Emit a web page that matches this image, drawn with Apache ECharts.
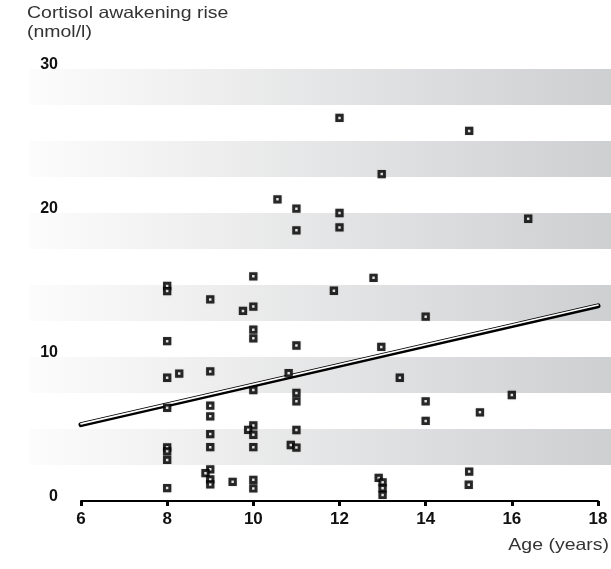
<!DOCTYPE html>
<html>
<head>
<meta charset="utf-8">
<script src="https://cdn.jsdelivr.net/npm/echarts@6/dist/echarts.min.js"></script>
<style>
  html, body { margin: 0; padding: 0; background: #fff; }
  #chart { width: 611px; height: 569px; }
</style>
</head>
<body>
<div id="chart"></div>
<script>
// Age (years) of each child and their cortisol awakening rise (nmol/l)
const ages = [
  8, 8, 8, 8, 8, 8, 8, 8, 8, 8.28,
  9, 9, 9, 9, 9, 9, 9, 8.89, 9, 9, 9.52,
  9.76, 10, 10, 10, 10, 10, 10, 9.88, 10, 10, 10, 10,
  10.56, 10.82, 10.87, 11, 11, 11, 11, 11, 11, 11,
  11.87, 12, 12, 12, 12.79, 12.98, 12.97, 12.91, 13, 13, 13,
  13.40, 14, 14, 14, 15.01, 15.01, 15, 15.26, 16, 16.38
];
const rises = [
  14.93, 14.58, 11.1, 8.56, 6.47, 3.73, 3.45, 2.85, 0.9, 8.85,
  14.0, 9.0, 6.62, 5.88, 4.65, 3.74, 2.2, 1.93, 1.5, 1.15, 1.33,
  13.2, 15.6, 13.5, 11.9, 11.3, 7.7, 5.25, 4.94, 4.6, 3.74, 1.47, 0.87,
  20.95, 8.87, 3.89, 20.3, 18.8, 10.8, 7.5, 6.92, 4.93, 3.71,
  14.6, 26.6, 20.0, 19.0, 15.5, 22.7, 10.7, 1.6, 1.3, 0.88, 0.42,
  8.56, 12.8, 6.92, 5.56, 25.7, 2.04, 1.13, 6.16, 7.36, 19.6
];

// Fitted trend line: start and end (age, rise)
const trendAges = [6, 18];
const trendRises = [5.3, 13.55];

// Shaded horizontal bands (lower, upper bound in nmol/l)
const bandLows = [2.5, 7.5, 12.5, 17.5, 22.5, 27.5];
const bandHighs = [5, 10, 15, 20, 25, 30];

// Axis ranges and tick spacing
const xMin = 6, xMax = 18, xStep = 2;
const yMin = 0, yMax = 30, yStep = 10;

const FONT = '"Liberation Sans", Arial, Helvetica, sans-serif';

const chart = echarts.init(document.getElementById('chart'), null, { renderer: 'canvas' });

const points = ages.map((a, i) => [a, rises[i]]);
const bands = bandLows.map((lo, i) => [xMin, lo, bandHighs[i]]);
const trend = [[trendAges[0], trendRises[0], trendAges[1], trendRises[1]]];

chart.setOption({
  animation: false,
  backgroundColor: '#ffffff',
  grid: { left: 81, right: 13, top: 69, bottom: 68 },
  graphic: [
    {
      type: 'text', x: 27, y: 4, scaleX: 1.18,
      style: {
        text: 'Cortisol awakening rise\n(nmol/l)',
        fontFamily: FONT, fontSize: 16.5, lineHeight: 19,
        fill: '#333333', textVerticalAlign: 'top'
      }
    },
    {
      type: 'text', x: 609, y: 545, scaleX: 1.18,
      style: {
        text: 'Age (years)',
        fontFamily: FONT, fontSize: 16.5,
        fill: '#333333', textAlign: 'right', textVerticalAlign: 'middle'
      }
    }
  ],
  xAxis: {
    type: 'value', min: xMin, max: xMax, interval: xStep,
    axisLine: { show: true, onZero: false, lineStyle: { color: '#000', width: 2 } },
    axisTick: { show: true, length: 5, lineStyle: { color: '#000', width: 3 } },
    axisLabel: {
      fontFamily: FONT, fontWeight: 'bold', fontSize: 17, color: '#111', margin: 10
    },
    splitLine: { show: false }
  },
  yAxis: {
    type: 'value', min: yMin, max: yMax, interval: yStep,
    axisLine: { show: false },
    axisTick: { show: false },
    splitLine: { show: false },
    axisLabel: {
      fontFamily: FONT, fontWeight: 'bold', fontSize: 16, color: '#111',
      margin: 23, verticalAlign: 'bottom', lineHeight: 9
    }
  },
  series: [
    {
      // grey bands fading from white on the left to grey on the right
      type: 'custom',
      z: 1,
      silent: true,
      data: bands,
      renderItem: function (params, api) {
        const cs = params.coordSys;
        const yTop = api.coord([api.value(0), api.value(2)])[1];
        const yBot = api.coord([api.value(0), api.value(1)])[1];
        const left = cs.x - 51;
        const right = api.getWidth();
        return {
          type: 'rect',
          shape: { x: left, y: yTop, width: right - left, height: yBot - yTop },
          style: {
            fill: new echarts.graphic.LinearGradient(0, 0, 1, 0, [
              { offset: 0, color: '#fcfcfc' },
              { offset: 1, color: '#cecfd1' }
            ])
          }
        };
      }
    },
    {
      // regression line drawn as a black stroke with a white highlight
      type: 'custom',
      z: 3,
      silent: true,
      data: trend,
      renderItem: function (params, api) {
        const p0 = api.coord([api.value(0), api.value(1)]);
        const p1 = api.coord([api.value(2), api.value(3)]);
        return {
          type: 'group',
          children: [
            {
              type: 'line',
              shape: { x1: p0[0], y1: p0[1], x2: p1[0], y2: p1[1] },
              style: { stroke: '#000', lineWidth: 5, lineCap: 'round' }
            },
            {
              type: 'line',
              shape: { x1: p0[0], y1: p0[1] - 0.8, x2: p1[0], y2: p1[1] - 0.8 },
              style: { stroke: '#fff', lineWidth: 1.6, lineCap: 'round' }
            }
          ]
        };
      }
    },
    {
      type: 'scatter',
      z: 5,
      data: points,
      symbol: 'rect',
      symbolSize: 5.4,
      itemStyle: {
        color: '#ffffff',
        borderColor: '#000000',
        borderWidth: 2.9,
        shadowColor: 'rgba(0,0,0,0.3)',
        shadowBlur: 1.5
      }
    }
  ]
});
</script>
</body>
</html>
